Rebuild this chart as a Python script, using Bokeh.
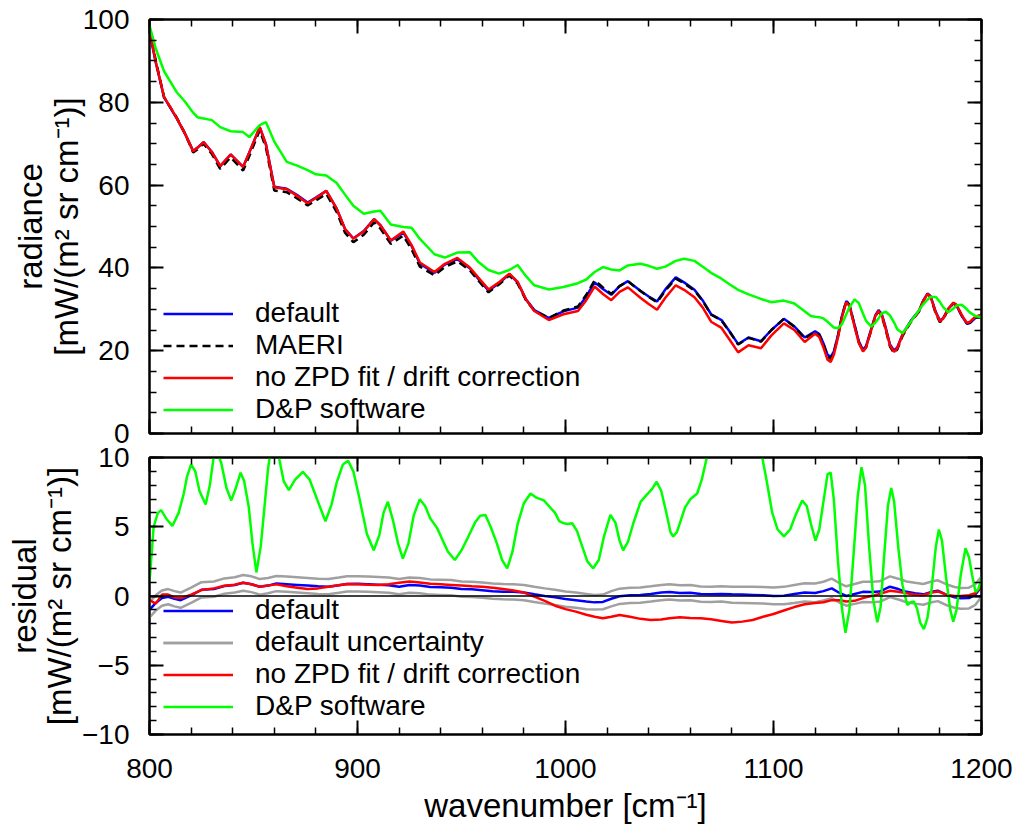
from bokeh.plotting import figure
from bokeh.models import Range1d, LinearAxis, SingleIntervalTicker, Legend, LegendItem, Span
from bokeh.layouts import column
from bokeh.embed import file_html
from bokeh.resources import INLINE

FONT = "Liberation Sans"

# ---------------- top panel data (radiance) ----------------
wn_top = [800, 803, 807, 813, 817, 821, 823, 826, 830, 834, 839, 845, 848, 853, 856, 860,
          866, 871, 876, 880, 885, 890, 894, 898, 903, 908, 911, 916, 922, 926, 930, 937,
          942, 948, 954, 958, 963, 968, 973, 977, 981, 985, 992, 999, 1006, 1010, 1014, 1018,
          1022, 1026, 1030, 1036, 1040, 1044, 1048, 1053, 1057, 1062, 1066, 1070, 1075, 1079,
          1083, 1088, 1094, 1099, 1105, 1110,
          1115, 1118, 1120, 1122, 1124, 1126, 1127.5, 1129, 1131, 1133,
          1135, 1136.5, 1139, 1141, 1143, 1144.5, 1147, 1149, 1150.5, 1152,
          1154, 1156, 1158, 1159.5, 1162, 1166, 1170, 1172, 1174, 1175.5,
          1178, 1180, 1181.5, 1184, 1186.5, 1188, 1190.5, 1193, 1194.5, 1197, 1200]
maeri = [97.8, 90.1, 81.2, 76.4, 72.5, 67.9, 68.6, 70.0, 67.5, 63.9, 66.7, 63.5, 67.0, 73.3, 69.0, 58.7,
         58.3, 56.8, 55.1, 56.3, 57.9, 53.5, 48.5, 46.2, 48.0, 51.0, 49.5, 45.8, 47.8, 44.5, 40.3, 38.2,
         40.2, 41.6, 39.4, 37.0, 34.1, 36.0, 38.2, 36.2, 32.2, 29.7, 27.9, 29.7, 30.7, 33.5, 37.0, 35.3,
         33.7, 35.6, 36.8, 34.4, 33.0, 31.7, 34.5, 37.4, 36.3, 34.5, 32.0, 28.7, 27.3, 24.5,
         21.5, 23.1, 22.2, 25.0, 27.7, 25.8,
         22.9, 23.9, 24.5, 23.8, 21.5, 18.6, 18.0, 19.5, 23.5, 28.5,
         32.0, 31.0, 26.0, 22.0, 19.9, 20.8, 25.0, 28.3, 29.5, 28.5,
         25.0, 21.0, 19.4, 20.3, 23.5, 26.9, 29.5, 32.0, 33.7, 33.0,
         29.0, 26.9, 27.5, 30.0, 31.5, 31.0, 28.5, 26.6, 26.8, 28.0, 28.0]
default_top = [97.0, 89.6, 81.2, 76.2, 72.5, 68.2, 69.0, 70.4, 68.0, 64.6, 67.4, 64.4, 67.9, 74.0, 69.8, 59.6,
               59.1, 57.6, 55.8, 57.0, 58.6, 54.3, 49.4, 47.1, 48.9, 51.8, 50.3, 46.6, 48.5, 45.3, 41.0, 38.8,
               40.8, 42.1, 39.9, 37.4, 34.5, 36.3, 38.5, 36.5, 32.4, 29.8, 27.9, 29.5, 30.4, 33.1, 36.5, 34.9,
               33.5, 35.6, 36.8, 34.5, 33.1, 31.9, 34.8, 37.7, 36.5, 34.7, 32.1, 28.8, 27.4, 24.6,
               21.6, 23.2, 22.3, 25.0, 27.7, 25.9,
               23.2, 24.1, 24.7, 24.0, 21.8, 19.0, 18.5, 19.8, 23.7, 28.6,
               32.0, 31.1, 26.2, 22.3, 20.2, 21.1, 25.3, 28.6, 29.8, 28.9,
               25.5, 21.5, 20.0, 20.8, 23.9, 27.2, 29.7, 32.1, 33.8, 33.2,
               29.4, 27.3, 27.8, 30.1, 31.4, 30.9, 28.4, 26.5, 26.7, 27.9, 28.7]
nozpd_top = [97.5, 89.8, 81.3, 76.3, 72.5, 68.2, 69.0, 70.4, 68.0, 64.6, 67.4, 64.4, 67.9, 74.0, 69.8, 59.5,
             59.0, 57.4, 55.6, 56.9, 58.6, 54.3, 49.4, 47.1, 48.8, 51.8, 50.3, 46.6, 48.8, 45.5, 41.3, 39.0,
             41.0, 42.4, 40.1, 37.7, 34.8, 36.5, 38.6, 36.6, 32.4, 29.6, 27.4, 28.8, 29.6, 32.2, 35.5, 33.7,
             32.2, 34.2, 35.3, 32.8, 31.3, 29.9, 32.8, 35.8, 34.7, 32.9, 30.4, 27.0, 25.5, 22.6,
             19.6, 21.3, 20.6, 23.7, 26.6, 25.0,
             22.1, 23.3, 24.1, 23.3, 20.8, 17.8, 17.3, 19.0, 23.2, 28.2,
             31.7, 30.8, 25.8, 21.9, 19.8, 20.8, 25.0, 28.4, 29.6, 28.7,
             25.2, 21.3, 19.7, 20.6, 23.8, 27.1, 29.6, 32.0, 33.7, 33.1,
             29.2, 27.1, 27.7, 30.1, 31.6, 31.1, 28.6, 26.7, 27.0, 28.2, 28.7]
dp_top = [98.6, 93.0, 87.5, 82.5, 80.2, 77.5, 76.4, 76.1, 75.7, 74.0, 73.0, 72.8, 71.6, 74.5, 75.2, 70.5,
          65.6, 64.7, 63.6, 62.6, 62.3, 60.5, 57.7, 55.0, 53.1, 53.6, 53.8, 50.5, 49.9, 49.7, 47.0, 43.3,
          42.5, 43.7, 43.8, 41.5, 39.5, 38.6, 39.5, 40.7, 38.0, 35.8, 34.8, 35.4, 36.3, 37.2, 39.0, 40.2,
          39.6, 39.4, 40.6, 41.0, 40.5, 39.8, 40.3, 41.7, 42.2, 41.7, 40.3, 38.8, 37.4, 36.0,
          34.7, 33.6, 32.5, 31.7, 32.1, 31.4,
          29.5, 28.4, 28.2, 28.1, 27.8, 27.0, 26.3, 25.6, 25.4, 26.5,
          28.8, 30.5, 32.4, 31.5, 29.0, 27.2, 25.8, 26.8, 27.8, 29.0,
          29.4, 28.5, 26.8, 25.2, 24.2, 27.0, 29.8, 31.2, 32.3, 33.0,
          33.0, 31.8, 30.6, 29.3, 30.2, 30.9, 31.1, 30.0, 29.2, 28.4, 28.1]

# ---------------- bottom panel data (residual) ----------------
res_wn = [800, 803, 806, 809, 812, 815, 820, 825, 831, 836, 841, 845, 849, 853, 857, 861, 866, 871,
          876, 881, 886, 891, 895, 900, 905, 910, 915, 920, 925, 930, 935, 940, 945, 950, 955, 960,
          965, 970, 975, 980, 985, 990, 995, 1000, 1005, 1010, 1014, 1018, 1022, 1026, 1031, 1036,
          1041, 1046, 1050, 1055, 1060, 1065, 1070, 1075, 1080, 1085, 1090, 1095, 1100, 1105, 1110,
          1115, 1120, 1124, 1128, 1132, 1135, 1139, 1143, 1147, 1151, 1156, 1160, 1164, 1168, 1172,
          1176, 1179, 1183, 1187, 1190, 1194, 1197, 1200]
res_default = [-1.0, -0.5, -0.15, -0.05, -0.2, -0.3, 0.05, 0.45, 0.5, 0.72, 0.8, 0.96, 0.85, 0.67, 0.75, 0.9, 0.85, 0.8,
               0.75, 0.7, 0.67, 0.78, 0.87, 0.88, 0.85, 0.82, 0.78, 0.67, 0.79, 0.75, 0.65, 0.63, 0.6, 0.5, 0.48, 0.42,
               0.35, 0.31, 0.3, 0.25, 0.12, 0.0, -0.1, -0.22, -0.3, -0.4, -0.46, -0.43, -0.2, -0.02, 0.05, 0.07,
               0.15, 0.25, 0.29, 0.22, 0.24, 0.14, 0.12, 0.15, 0.12, 0.1, 0.08, 0.05, 0.0, 0.02, 0.15,
               0.26, 0.22, 0.35, 0.55, 0.2, 0.0, 0.15, 0.3, 0.28, 0.32, 0.67, 0.5, 0.3, 0.2, 0.12,
               0.3, 0.38, 0.1, -0.1, -0.17, -0.15, 0.1, 0.67]
unc_upper = [-0.45, 0.05, 0.4, 0.5, 0.35, 0.25, 0.6, 1.0, 1.05, 1.27, 1.35, 1.52, 1.42, 1.22, 1.3, 1.45, 1.4, 1.35,
             1.3, 1.25, 1.22, 1.33, 1.42, 1.43, 1.4, 1.37, 1.33, 1.22, 1.34, 1.3, 1.2, 1.18, 1.15, 1.05, 1.03, 0.97,
             0.9, 0.86, 0.85, 0.8, 0.67, 0.55, 0.45, 0.33, 0.25, 0.15, 0.07, 0.1, 0.35, 0.53, 0.6, 0.62,
             0.7, 0.8, 0.84, 0.77, 0.79, 0.69, 0.67, 0.7, 0.67, 0.67, 0.66, 0.65, 0.62, 0.66, 0.8,
             0.92, 0.9, 1.03, 1.25, 0.9, 0.7, 0.87, 1.03, 1.02, 1.06, 1.42, 1.25, 1.05, 0.95, 0.87,
             1.05, 1.13, 0.85, 0.65, 0.58, 0.6, 0.85, 1.4]
unc_lower = [-1.55, -1.05, -0.7, -0.6, -0.75, -0.85, -0.5, -0.1, -0.05, 0.17, 0.25, 0.38, 0.28, 0.1, 0.2, 0.35, 0.3, 0.25,
             0.2, 0.15, 0.12, 0.23, 0.32, 0.33, 0.3, 0.27, 0.23, 0.12, 0.24, 0.2, 0.1, 0.08, 0.05, -0.05, -0.07, -0.13,
             -0.2, -0.24, -0.25, -0.3, -0.43, -0.55, -0.65, -0.77, -0.85, -0.95, -0.98, -0.96, -0.75, -0.57, -0.5, -0.48,
             -0.4, -0.3, -0.26, -0.33, -0.31, -0.41, -0.43, -0.4, -0.48, -0.5, -0.52, -0.55, -0.6, -0.6, -0.5,
             -0.4, -0.45, -0.33, -0.15, -0.5, -0.7, -0.57, -0.43, -0.46, -0.42, -0.08, -0.25, -0.45, -0.55, -0.63,
             -0.45, -0.37, -0.65, -0.85, -0.92, -0.9, -0.65, -0.05]
res_nozpd = [-0.3, -0.55, 0.1, 0.1, -0.1, -0.15, 0.1, 0.43, 0.55, 0.74, 0.82, 0.96, 0.85, 0.67, 0.75, 0.84, 0.7, 0.6,
             0.5, 0.55, 0.67, 0.78, 0.87, 0.85, 0.82, 0.8, 0.85, 0.95, 1.04, 0.98, 0.88, 0.85, 0.8, 0.75, 0.7, 0.67,
             0.6, 0.5, 0.4, 0.25, -0.05, -0.35, -0.7, -0.95, -1.13, -1.35, -1.5, -1.61, -1.5, -1.37, -1.5, -1.65,
             -1.73, -1.7, -1.6, -1.54, -1.58, -1.61, -1.68, -1.8, -1.92, -1.85, -1.73, -1.5, -1.3, -1.05, -0.8,
             -0.6, -0.5, -0.45, -0.3, -0.3, -0.4, -0.35, -0.15, 0.0, 0.15, 0.38, 0.3, 0.2, 0.1, 0.05,
             0.25, 0.33, 0.1, 0.0, 0.0, 0.05, 0.2, 0.7]

dp_res_wn = [800, 801, 802, 804, 805.6, 808, 811, 814, 816.5, 818, 820, 822, 824, 827, 829, 831, 833, 834.5,
             837, 839.3, 841.5, 843.8, 845.5, 847.7, 849.5, 851.4, 853.5, 855.3, 857, 858.5, 860, 861.5,
             862.5, 864.5, 867, 870, 873.7, 877, 880.5, 884.6, 887.5, 890, 893, 895.5, 898, 901, 904.5,
             907.8, 910.5, 912.5, 914.6, 917, 919.5, 921.8, 924.5, 927, 929.9, 932.5, 935, 938.3, 941,
             943.5, 946.8, 950, 953, 956.5, 959, 961.5, 964, 967, 969.5, 972, 974.5, 977, 980, 983.2,
             986, 989.6, 992, 995, 997, 999.2, 1001, 1003.2, 1005.5, 1008, 1010.5, 1013.3, 1016, 1018.5,
             1021.6, 1024, 1026, 1027.7, 1030, 1032.5, 1036.1, 1039, 1041.5, 1043.8, 1046, 1048.5, 1050.5,
             1051.8, 1053.5, 1055.3, 1057.5, 1060.1, 1063.3, 1065.5, 1067.8, 1072, 1080, 1088, 1093,
             1094.6, 1096.5, 1099.4, 1102, 1105, 1108, 1110.5, 1113.8, 1116, 1118, 1120.2, 1122, 1124,
             1126, 1127.5, 1129, 1131, 1133, 1134.6, 1136.5, 1138.5, 1140.5, 1142.3, 1144, 1146, 1148,
             1149.9, 1151.5, 1153, 1155, 1156.6, 1158, 1160, 1162, 1164.3, 1166, 1167.5, 1169, 1170.5,
             1172.3, 1174, 1176, 1178, 1179.5, 1181, 1183, 1185, 1186.4, 1188, 1190, 1192.3, 1194,
             1195.5, 1197.1, 1198.5, 1200]
dp_res = [1.0, 3.0, 5.0, 6.0, 6.2, 5.6, 5.05, 6.0, 7.4, 8.6, 9.5, 9.0, 7.6, 6.6, 8.0, 10.2, 10.2, 9.6,
          7.8, 6.9, 7.8, 8.9, 8.3, 6.45, 3.8, 1.7, 3.6, 6.45, 9.2, 10.8, 11.2, 10.8,
          9.8, 8.3, 7.65, 8.4, 8.97, 8.4, 7.0, 5.4, 6.6, 8.2, 9.5, 9.77, 9.0, 7.0, 4.5,
          3.3, 4.4, 6.0, 6.8, 5.5, 3.8, 2.7, 3.8, 5.8, 6.98, 6.5, 5.6, 4.9, 4.0,
          3.2, 2.6, 3.3, 4.2, 5.3, 5.8, 5.85, 5.0, 3.8, 2.6, 2.0, 3.2, 5.2, 6.7, 7.4,
          7.1, 6.9, 6.5, 6.0, 5.4, 5.25, 5.2, 5.25, 4.7, 3.6, 2.5, 2.0, 2.6, 4.3,
          5.85, 5.3, 4.0, 3.3, 3.9, 5.2, 6.8, 7.3, 7.7, 8.25, 7.6, 6.0, 4.6,
          4.3, 4.6, 5.4, 6.4, 7.0, 7.4, 8.4, 9.9, 13.0, 14.5, 13.0, 10.8,
          10.0, 8.5, 6.0, 4.8, 4.3, 4.8, 5.8, 6.9, 6.5, 5.2, 4.0, 4.8, 6.8,
          8.8, 8.9, 7.0, 2.5, -1.0, -2.65, -1.0, 3.0, 7.2, 9.3, 8.0, 3.5, -0.3,
          -1.9, -0.8, 2.5, 6.5, 7.8, 6.8, 3.5, 0.8, -0.65, -0.45, -0.4, -0.9, -1.9,
          -2.4, -1.6, 0.5, 3.5, 4.8, 4.0, 1.3, -1.0, -1.85, -1.0, 1.5, 3.45, 2.8,
          1.5, 0.3, 0.5, 1.3]

top_labels = ["default", "MAERI", "no ZPD fit / drift correction", "D&P software"]
bottom_labels = ["default", "default uncertainty", "no ZPD fit / drift correction", "D&P software"]

BLUE, RED, GREEN, GREY, BLACK = "#0000ff", "#ff0000", "#00ff00", "#a0a0a0", "#000000"
LW = 2.5
TICK_FS = "28px"
TITLE_FS = "33px"
LEG_FS = "28px"

LEFT = 149
FRAME_W = 832
RIGHT = 35
W = LEFT + FRAME_W + RIGHT


def style_axis(ax, ticker, labels):
    ax.ticker = ticker
    ax.major_tick_in = 14
    ax.major_tick_out = 0
    ax.minor_tick_in = 7
    ax.minor_tick_out = 0
    ax.axis_line_color = BLACK
    ax.axis_line_width = 2
    ax.major_tick_line_color = BLACK
    ax.major_tick_line_width = 2
    ax.minor_tick_line_color = BLACK
    ax.minor_tick_line_width = 1.5
    ax.axis_label_text_font = FONT
    ax.axis_label_text_font_style = "normal"
    ax.axis_label_text_font_size = TITLE_FS
    ax.axis_label_text_color = BLACK
    if labels:
        ax.major_label_text_font = FONT
        ax.major_label_text_font_size = TICK_FS
        ax.major_label_text_color = BLACK
    else:
        ax.major_label_text_font_size = "0px"
        ax.major_label_text_alpha = 0
        ax.major_label_standoff = 0


def title_axis(text, ticker, standoff):
    ax = LinearAxis(axis_label=text)
    style_axis(ax, ticker, False)
    ax.axis_line_color = None
    ax.major_tick_line_color = None
    ax.minor_tick_line_color = None
    ax.axis_label_standoff = standoff
    return ax


def make_fig(height, ymin, ymax, top_border, bottom_border):
    p = figure(width=W, height=height, output_backend="svg", toolbar_location=None,
               x_range=Range1d(800, 1200), y_range=Range1d(ymin, ymax),
               x_axis_location=None, y_axis_location=None,
               min_border_left=LEFT, min_border_right=RIGHT,
               min_border_top=top_border, min_border_bottom=bottom_border)
    p.xgrid.visible = False
    p.ygrid.visible = False
    p.outline_line_color = BLACK
    p.outline_line_width = 2
    p.background_fill_color = "white"
    p.border_fill_alpha = 0
    return p


# ---------------- top figure ----------------
p1 = make_fig(19 + 414 + 17, 0, 100, 19, 17)
xt = SingleIntervalTicker(interval=100, num_minor_ticks=5)
yt1 = SingleIntervalTicker(interval=20, num_minor_ticks=4)

ax_l = LinearAxis(axis_label="[mW/(m² sr cm⁻¹)]")
style_axis(ax_l, yt1, True)
ax_l.major_label_standoff = 20
ax_l.axis_label_standoff = -5
p1.add_layout(ax_l, "left")
p1.add_layout(title_axis("radiance", yt1, -4), "left")
ax_r = LinearAxis(); style_axis(ax_r, yt1, False); p1.add_layout(ax_r, "right")
ax_b = LinearAxis(); style_axis(ax_b, xt, False); p1.add_layout(ax_b, "below")
ax_a = LinearAxis(); style_axis(ax_a, xt, False); p1.add_layout(ax_a, "above")

r_def = p1.line(wn_top, default_top, line_color=BLUE, line_width=LW)
r_mae = p1.line(wn_top, maeri, line_color=BLACK, line_width=LW, line_dash="8 5")
r_noz = p1.line(wn_top, nozpd_top, line_color=RED, line_width=LW)
r_dp = p1.line(wn_top, dp_top, line_color=GREEN, line_width=LW)

leg1 = Legend(items=[LegendItem(label=top_labels[0], renderers=[r_def]),
                     LegendItem(label=top_labels[1], renderers=[r_mae]),
                     LegendItem(label=top_labels[2], renderers=[r_noz]),
                     LegendItem(label=top_labels[3], renderers=[r_dp])],
              location=(14, 8))
p1.add_layout(leg1, "center")

# ---------------- bottom figure (overlaps the top one by 12 px, transparent border) ----------------
p2 = make_fig(19 + 277 + 95, -10, 10, 19, 95)
p2.margin = (-12, 0, 0, 0)
yt2 = SingleIntervalTicker(interval=5, num_minor_ticks=5)
bx_l = LinearAxis(axis_label="[mW/(m² sr cm⁻¹)]")
style_axis(bx_l, yt2, True)
bx_l.major_label_standoff = 20
bx_l.axis_label_standoff = 1
p2.add_layout(bx_l, "left")
p2.add_layout(title_axis("residual", yt2, -4), "left")
bx_r = LinearAxis(); style_axis(bx_r, yt2, False); p2.add_layout(bx_r, "right")
bx_a = LinearAxis(); style_axis(bx_a, xt, False); p2.add_layout(bx_a, "above")
bx_b = LinearAxis(axis_label="wavenumber [cm⁻¹]")
style_axis(bx_b, xt, True)
bx_b.major_label_standoff = 24
bx_b.axis_label_standoff = 6
p2.add_layout(bx_b, "below")

p2.add_layout(Span(location=0, dimension="width", line_color=BLACK, line_width=1.5))

s_def = p2.line(res_wn, res_default, line_color=BLUE, line_width=LW)
s_up = p2.line(res_wn, unc_upper, line_color=GREY, line_width=LW)
s_lo = p2.line(res_wn, unc_lower, line_color=GREY, line_width=LW)
s_noz = p2.line(res_wn, res_nozpd, line_color=RED, line_width=LW)
s_dp = p2.line(dp_res_wn, dp_res, line_color=GREEN, line_width=LW)

leg2 = Legend(items=[LegendItem(label=bottom_labels[0], renderers=[s_def]),
                     LegendItem(label=bottom_labels[1], renderers=[s_up, s_lo]),
                     LegendItem(label=bottom_labels[2], renderers=[s_noz]),
                     LegendItem(label=bottom_labels[3], renderers=[s_dp])],
              location=(14, 12))
p2.add_layout(leg2, "center")

for lg in (leg1, leg2):
    lg.background_fill_alpha = 0
    lg.border_line_color = None
    lg.padding = 0
    lg.margin = 0
    lg.spacing = 0
    lg.glyph_width = 70
    lg.glyph_height = 31
    lg.label_height = 31
    lg.label_standoff = 22
    lg.label_text_font = FONT
    lg.label_text_font_size = LEG_FS
    lg.label_text_color = BLACK

layout = column(p1, p2, spacing=0)
open("out.html", "w").write(file_html(layout, INLINE))
